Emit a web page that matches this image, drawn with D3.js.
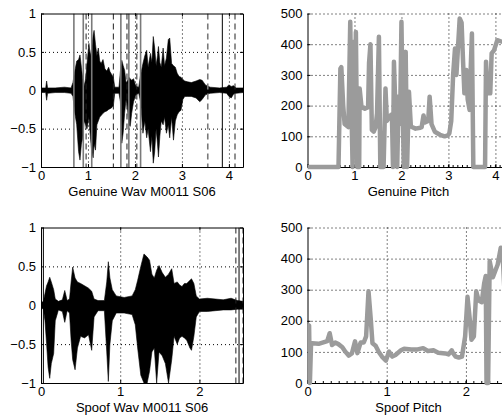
<!DOCTYPE html>
<html>
<head>
<meta charset="utf-8">
<script src="https://cdn.jsdelivr.net/npm/d3@7"></script>
<style>
  body { margin: 0; background: #fff; }
  svg { display: block; font-family: "Liberation Sans", Arial, sans-serif; }
</style>
</head>
<body>
<div id="chart"></div>
<script>
// ---- genuine waveform envelope (time s, upper, lower) ----
var genWavT  = [0.00,0.10,0.12,0.14,0.30,0.50,0.64,0.68,0.72,0.76,0.80,0.83,0.86,0.89,0.92,0.95,0.98,1.02,1.05,1.08,
                1.11,1.13,1.16,1.19,1.22,1.25,1.28,1.32,1.36,1.40,1.44,1.47,1.50,1.54,1.57,1.66,1.69,1.72,1.75,1.78,
                1.81,1.84,1.87,1.90,1.93,1.97,2.02,2.08,2.12,2.17,2.21,2.25,2.28,2.33,2.36,2.39,2.42,2.45,2.48,2.50,
                2.53,2.56,2.60,2.63,2.67,2.71,2.74,2.78,2.82,2.86,2.90,2.94,2.98,3.02,3.06,3.12,3.20,3.30,3.38,3.43,
                3.50,3.60,3.80,3.95,4.00,4.05,4.10,4.15,4.30];
var genWavHi = [0.03,0.03,0.12,0.03,0.03,0.04,0.03,0.10,0.25,0.38,0.40,0.46,0.30,0.15,0.06,0.15,0.35,0.61,0.45,0.55,
                0.72,0.78,0.60,0.45,0.55,0.38,0.35,0.40,0.28,0.25,0.30,0.24,0.21,0.17,0.04,0.04,0.25,0.39,0.32,0.26,
                0.10,0.12,0.17,0.15,0.13,0.15,0.05,0.04,0.20,0.35,0.45,0.52,0.30,0.48,0.36,0.70,0.55,0.32,0.45,0.57,
                0.36,0.30,0.55,0.32,0.42,0.66,0.68,0.35,0.32,0.30,0.22,0.18,0.17,0.14,0.12,0.11,0.10,0.12,0.14,0.13,
                0.07,0.04,0.03,0.04,0.07,0.05,0.06,0.03,0.03];
var genWavLo = [-0.03,-0.03,-0.13,-0.04,-0.03,-0.03,-0.04,-0.08,-0.30,-0.45,-0.80,-0.91,-0.70,-0.62,-0.40,-0.45,-0.50,-0.35,-0.60,-0.80,
                -0.88,-0.70,-0.78,-0.45,-0.40,-0.35,-0.33,-0.30,-0.28,-0.27,-0.25,-0.24,-0.23,-0.20,-0.04,-0.04,-0.15,-0.69,-0.55,-0.30,
                -0.12,-0.22,-0.45,-0.47,-0.30,-0.15,-0.06,-0.04,-0.15,-0.56,-0.40,-0.62,-0.50,-0.80,-0.60,-0.95,-0.80,-0.50,-0.70,-0.87,
                -0.60,-0.40,-0.45,-0.35,-0.56,-0.45,-0.62,-0.35,-0.65,-0.40,-0.32,-0.28,-0.26,-0.12,-0.08,-0.08,-0.08,-0.10,-0.15,-0.12,
                -0.06,-0.04,-0.03,-0.04,-0.08,-0.10,-0.05,-0.04,-0.03];

// marker lines on the genuine waveform (s)
var genGraySolid  = [0.70, 0.90, 1.08, 1.70, 1.87, 2.12];
var genBlackDash  = [0.96, 1.54, 1.83, 2.04, 4.13];
var genGrayDash   = [3.55];
var genBlackSolid = [3.86];

// ---- spoof waveform envelope ----
var spfWavT  = [0.00,0.03,0.05,0.07,0.09,0.11,0.13,0.16,0.18,0.22,0.27,0.30,0.33,0.36,0.38,0.40,0.43,0.46,0.50,0.55,
                0.60,0.64,0.67,0.72,0.80,0.83,0.85,0.87,0.90,0.95,1.05,1.15,1.19,1.22,1.26,1.30,1.34,1.37,1.40,1.43,
                1.46,1.49,1.53,1.57,1.61,1.65,1.68,1.72,1.75,1.78,1.81,1.84,1.88,1.90,1.93,1.96,2.00,2.10,2.20,2.30,
                2.40,2.48,2.55];
var spfWavHi = [0.03,0.05,0.15,0.25,0.30,0.36,0.30,0.20,0.08,0.05,0.07,0.19,0.06,0.08,0.30,0.49,0.35,0.30,0.28,0.25,
                0.22,0.18,0.08,0.06,0.06,0.30,0.56,0.35,0.20,0.12,0.10,0.12,0.20,0.32,0.50,0.66,0.62,0.58,0.40,0.35,
                0.45,0.51,0.42,0.36,0.40,0.47,0.28,0.30,0.26,0.24,0.28,0.28,0.32,0.34,0.28,0.12,0.08,0.09,0.08,0.07,
                0.09,0.06,0.05];
var spfWavLo = [-0.03,-0.05,-0.20,-0.49,-0.80,-0.94,-0.75,-0.62,-0.20,-0.06,-0.08,-0.22,-0.07,-0.10,-0.45,-0.70,-0.83,-0.55,-0.40,-0.42,
                -0.38,-0.58,-0.15,-0.07,-0.07,-0.60,-0.98,-0.50,-0.20,-0.10,-0.10,-0.12,-0.25,-0.55,-0.90,-1.00,-1.00,-0.85,-0.60,-0.55,
                -1.00,-0.60,-0.65,-0.75,-1.00,-0.70,-0.40,-0.50,-0.42,-0.40,-0.42,-0.45,-0.55,-0.58,-0.40,-0.15,-0.08,-0.08,-0.07,-0.06,
                -0.06,-0.05,-0.05];

var spfBlackSolid = [0.03, 2.50];
var spfBlackDash  = [2.46, 2.55];

// ---- genuine pitch (s, Hz) ----
var genPitchT = [0.00,0.66,0.70,0.72,0.76,0.79,0.87,0.91,0.93,0.96,0.99,1.01,1.03,1.06,1.10,1.11,1.15,1.22,1.29,1.31,
                 1.34,1.37,1.41,1.45,1.48,1.52,1.55,1.62,1.66,1.69,1.73,1.78,1.80,1.82,1.84,1.88,1.91,1.94,1.97,2.00,
                 2.02,2.05,2.09,2.12,2.16,2.20,2.30,2.40,2.43,2.47,2.50,2.57,2.60,2.64,2.71,2.82,2.92,2.99,3.02,3.06,
                 3.10,3.14,3.17,3.20,3.24,3.28,3.31,3.34,3.38,3.41,3.45,3.47,3.50,3.53,3.78,3.80,3.83,3.89,3.92,3.97,
                 4.04,4.30];
var genPitchV = [0,0,320,325,200,140,130,473,240,0,408,240,440,0,0,256,195,190,195,338,
                 400,121,115,130,175,424,0,0,256,150,160,170,150,0,343,150,0,230,140,473,
                 250,0,375,0,245,132,125,128,130,168,145,150,229,140,115,105,100,103,110,150,
                 300,386,300,380,484,470,350,240,316,220,186,300,435,0,0,343,240,240,370,380,
                 413,400];

// ---- spoof pitch ----
var spfPitchT = [0.00,0.02,0.03,0.045,0.06,0.14,0.19,0.25,0.28,0.31,0.35,0.39,0.44,0.48,0.52,0.56,0.60,0.63,0.67,0.71,
                 0.74,0.77,0.80,0.82,0.86,0.90,0.94,0.99,1.03,1.07,1.11,1.18,1.22,1.31,1.39,1.46,1.52,1.59,1.65,1.74,
                 1.78,1.82,1.84,1.87,1.91,1.95,1.99,2.02,2.05,2.07,2.10,2.13,2.16,2.20,2.23,2.25,2.26,2.28,2.30,2.34,
                 2.37,2.40,2.44,2.47,2.51,2.55];
var spfPitchV = [178,185,0,128,128,126,130,135,160,122,130,125,115,100,88,95,134,96,130,130,
                 150,295,200,128,120,100,85,72,101,85,90,105,110,108,108,112,103,105,97,95,
                 92,105,95,85,82,85,150,277,200,139,150,295,265,260,320,344,0,0,392,340,
                 360,380,435,380,175,170];

// tick labels
var wavYTicks   = [-1, -0.5, 0, 0.5, 1];
var pitchYTicks = [0, 100, 200, 300, 400, 500];
var genXTicks   = [0, 1, 2, 3, 4];
var spfXTicks   = [0, 1, 2];

var titles = ["Genuine Wav M0011 S06", "Genuine Pitch", "Spoof Wav M0011 S06", "Spoof Pitch"];

function zip3(t, a, b) {
    return t.map(function(d, i) { return {t: d, hi: a[i], lo: b[i]}; });
}
function zip2(t, v) {
    return t.map(function(d, i) { return {t: d, v: v[i]}; });
}

var W = 502, H = 416;
var svg = d3.select("#chart").append("svg")
    .attr("width", W)
    .attr("height", H);

svg.append("rect").attr("width", W).attr("height", H).attr("fill", "#fff");

// matlab style labels: plain numbers, long minus
var fmtNum = function(d) { return d < 0 ? "\u2212" + Math.abs(d) : String(d); };

function drawPanel(p) {
    var x = d3.scaleLinear().domain(p.xDomain).range([p.left, p.left + p.width]);
    var y = d3.scaleLinear().domain(p.yDomain).range([p.bottom, p.top]);

    var g = svg.append("g");

    // lines may spill a few px over the axes (thick pitch line sits on the zero axis)
    var pad = p.pitch ? 3 : 0;
    g.append("clipPath")
        .attr("id", p.id + "-clip")
        .append("rect")
        .attr("x", p.left)
        .attr("y", p.top - pad)
        .attr("width", p.width)
        .attr("height", p.bottom - p.top + 2 * pad);

    // dotted grid
    var grid = g.append("g")
        .attr("stroke", "#000")
        .attr("stroke-width", 1)
        .attr("stroke-dasharray", "1,3");
    grid.selectAll(".vg").data(p.xTicks.filter(function(d) { return d > p.xDomain[0]; }))
        .enter().append("line")
        .attr("x1", function(d) { return x(d) + 0.5; })
        .attr("x2", function(d) { return x(d) + 0.5; })
        .attr("y1", p.top)
        .attr("y2", p.bottom);
    grid.selectAll(".hg").data(p.yTicks.filter(function(d) { return d > p.yDomain[0] && (p.box ? d < p.yDomain[1] : true); }))
        .enter().append("line")
        .attr("x1", p.left)
        .attr("x2", p.left + p.width)
        .attr("y1", function(d) { return y(d) + 0.5; })
        .attr("y2", function(d) { return y(d) + 0.5; });

    var plot = g.append("g").attr("clip-path", "url(#" + p.id + "-clip)");

    if (p.wave) {
        var area = d3.area()
            .x(function(d) { return x(d.t); })
            .y0(function(d) { return y(d.lo); })
            .y1(function(d) { return y(d.hi); });
        plot.append("path")
            .attr("d", area(p.wave))
            .attr("fill", "#000")
            .attr("stroke", "#000")
            .attr("stroke-width", 0.6);
    }

    // segment markers
    (p.markers || []).forEach(function(m) {
        plot.selectAll(null).data(m.times).enter().append("line")
            .attr("x1", function(d) { return x(d); })
            .attr("x2", function(d) { return x(d); })
            .attr("y1", p.top)
            .attr("y2", p.bottom)
            .attr("stroke", m.color)
            .attr("stroke-width", m.width)
            .attr("stroke-dasharray", m.dash);
    });

    // axes, inward ticks like matlab
    var xAxis = d3.axisBottom(x).tickValues(p.xTicks).tickSizeInner(-3).tickSizeOuter(0).tickPadding(4).tickFormat(fmtNum);
    var yAxis = d3.axisLeft(y).tickValues(p.yTicks).tickSizeInner(-3).tickSizeOuter(0).tickPadding(5).tickFormat(fmtNum);

    var xg = g.append("g").attr("transform", "translate(0," + p.bottom + ")").call(xAxis);
    var yg = g.append("g").attr("transform", "translate(" + p.left + ",0)").call(yAxis);

    if (p.minorX) {
        xg.selectAll(".minor").data(p.minorX).enter().append("line")
            .attr("x1", function(d) { return x(d); })
            .attr("x2", function(d) { return x(d); })
            .attr("y1", 0).attr("y2", -2)
            .attr("stroke", "#000");
    }

    if (p.box) {
        g.append("g").attr("transform", "translate(0," + p.top + ")")
            .call(d3.axisTop(x).tickValues(p.xTicks).tickSizeInner(-3).tickSizeOuter(0).tickFormat(""));
        g.append("g").attr("transform", "translate(" + (p.left + p.width) + ",0)")
            .call(d3.axisRight(y).tickValues(p.yTicks).tickSizeInner(-3).tickSizeOuter(0).tickFormat(""));
    }

    g.selectAll(".domain").attr("stroke", "#000").attr("stroke-width", 1);
    g.selectAll(".tick text").attr("font-size", 13).attr("fill", "#000");

    // pitch drawn last so it covers the axis line like the original
    if (p.pitch) {
        var line = d3.line()
            .x(function(d) { return x(d.t); })
            .y(function(d) { return y(d.v); });
        plot.raise();
        plot.append("path")
            .attr("d", line(p.pitch))
            .attr("fill", "none")
            .attr("stroke", "#9b9b9b")
            .attr("stroke-width", 4.5)
            .attr("stroke-linejoin", "round");
    }

    g.append("text")
        .attr("x", p.left + p.width / 2)
        .attr("y", p.bottom + 29)
        .attr("text-anchor", "middle")
        .attr("font-size", 13)
        .text(p.title);
}

var genMinor = d3.range(1, 44).map(function(i) { return i / 10; });
var spfMinor = d3.range(1, 26).map(function(i) { return i / 10; });

drawPanel({
    id: "gw", left: 41, width: 202, top: 13.5, bottom: 167,
    xDomain: [0, 4.3], yDomain: [-1, 1], xTicks: genXTicks, yTicks: wavYTicks,
    box: true, wave: zip3(genWavT, genWavHi, genWavLo), title: titles[0],
    markers: [
        {times: genGraySolid,  color: "#7a7a7a", width: 1.6, dash: null},
        {times: genBlackDash,  color: "#222",    width: 1,   dash: "6,4"},
        {times: genGrayDash,   color: "#7a7a7a", width: 1.6, dash: "6,4"},
        {times: genBlackSolid, color: "#000",    width: 1,   dash: null}
    ]
});

drawPanel({
    id: "gp", left: 307.5, width: 202, top: 13.5, bottom: 167,
    xDomain: [0, 4.3], yDomain: [0, 500], xTicks: genXTicks, yTicks: pitchYTicks,
    box: false, pitch: zip2(genPitchT, genPitchV), title: titles[1], minorX: genMinor
});

drawPanel({
    id: "sw", left: 41, width: 202, top: 227.5, bottom: 383,
    xDomain: [0, 2.55], yDomain: [-1, 1], xTicks: spfXTicks, yTicks: wavYTicks,
    box: true, wave: zip3(spfWavT, spfWavHi, spfWavLo), title: titles[2],
    markers: [
        {times: spfBlackSolid, color: "#000", width: 1, dash: null},
        {times: spfBlackDash,  color: "#222", width: 1, dash: "6,4"}
    ]
});

drawPanel({
    id: "sp", left: 307.5, width: 202, top: 227.5, bottom: 383,
    xDomain: [0, 2.55], yDomain: [0, 500], xTicks: spfXTicks, yTicks: pitchYTicks,
    box: false, pitch: zip2(spfPitchT, spfPitchV), title: titles[3], minorX: spfMinor
});
</script>
</body>
</html>
